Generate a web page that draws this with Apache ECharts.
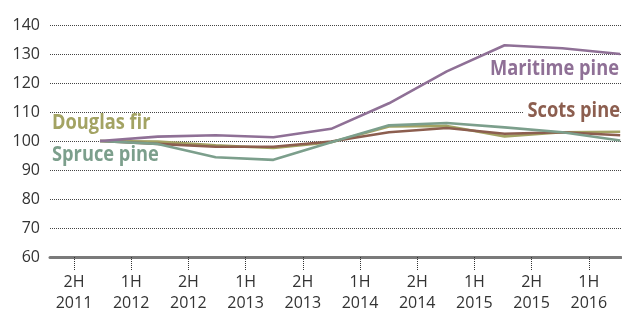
<!DOCTYPE html>
<html>
<head>
<meta charset="utf-8">
<script src="https://cdn.jsdelivr.net/npm/echarts@6/dist/echarts.min.js"></script>
<style>
  html, body { margin: 0; padding: 0; background: #fff; }
  #chart { width: 622px; height: 315px; }
</style>
</head>
<body>
<div id="chart"></div>
<script>
// half-year labels under the ticks
var tickLabels = ["2H\n2011", "1H\n2012", "2H\n2012", "1H\n2013", "2H\n2013",
  "1H\n2014", "2H\n2014", "1H\n2015", "2H\n2015", "1H\n2016"];

// index values, one per period
var maritime = [100, 101.5, 102, 101.3, 104.2, 113, 124, 133, 132, 130];
var scots    = [100, 99, 98, 98, 99.8, 103, 104.5, 102.5, 103, 102];
var douglas  = [100, 99.8, 98.5, 97.6, 99.6, 105, 105.2, 101.6, 103, 103.2];
var spruce   = [100, 99, 94.4, 93.5, 99.6, 105.4, 106.2, 104.7, 103, 100.2];

var col = {
  maritime: "#8f7096",
  scots: "#8c5e4f",
  douglas: "#a3a363",
  spruce: "#7c9f8c"
};

function pts(arr) {
  return arr.map(function (v, i) { return [i, v]; });
}

var chart = echarts.init(document.getElementById("chart"), null, { renderer: "canvas" });

var labelFont = "'Open Sans', sans-serif";
var nameFont = "bold 21px 'Open Sans', sans-serif";

function line(name, data, color) {
  return {
    name: name,
    type: "line",
    xAxisIndex: 1,
    data: pts(data),
    symbol: "none",
    lineStyle: { color: color, width: 2.6 },
    z: 3
  };
}

// series name labels, squeezed a bit to look like the condensed face
function tag(text, color, x, y, align, bg) {
  return {
    type: "text", x: x, y: y, z: 10, scaleX: 0.87,
    style: {
      text: text, fill: color, font: nameFont,
      align: align, verticalAlign: "top",
      backgroundColor: bg ? "#fff" : null,
      padding: bg ? [0, 0, 0, 5] : 0
    }
  };
}

var ticksAt = tickLabels.map(function (_, i) { return i; });

chart.setOption({
  animation: false,
  grid: { left: 50, right: 1, top: 25, bottom: 58 },
  xAxis: [
    {
      type: "value",
      min: -0.42,
      max: 9.563,
      axisLine: { show: true, onZero: false, lineStyle: { color: "#7a7a7a", width: 3 } },
      axisTick: {
        show: true,
        customValues: ticksAt,
        length: 13,
        lineStyle: { color: "#333", type: "dotted", width: 1 }
      },
      axisLabel: {
        customValues: ticksAt,
        formatter: function (v) { return tickLabels[Math.round(v)]; },
        color: "#333",
        fontFamily: labelFont,
        fontSize: 16,
        lineHeight: 21,
        margin: 15
      },
      splitLine: { show: false }
    },
    {
      type: "value",
      show: false,
      min: -0.865,
      max: 9.014
    }
  ],
  yAxis: {
    type: "value",
    min: 60,
    max: 140,
    interval: 10,
    axisLine: { show: false },
    axisTick: { show: false },
    axisLabel: {
      color: "#333",
      fontFamily: labelFont,
      fontSize: 16,
      margin: 10,
      padding: [0, 0, 8, 0]
    },
    splitLine: { lineStyle: { color: "#444", type: "dotted", width: 1 } }
  },
  series: [
    line("Douglas fir", douglas, col.douglas),
    line("Scots pine", scots, col.scots),
    line("Spruce pine", spruce, col.spruce),
    line("Maritime pine", maritime, col.maritime)
  ],
  graphic: [
    tag("Douglas fir", col.douglas, 52, 113, "left", false),
    tag("Spruce pine", col.spruce, 52, 145, "left", false),
    tag("Maritime pine", col.maritime, 619, 59, "right", true),
    tag("Scots pine", col.scots, 620, 101, "right", true)
  ]
});
</script>
</body>
</html>
